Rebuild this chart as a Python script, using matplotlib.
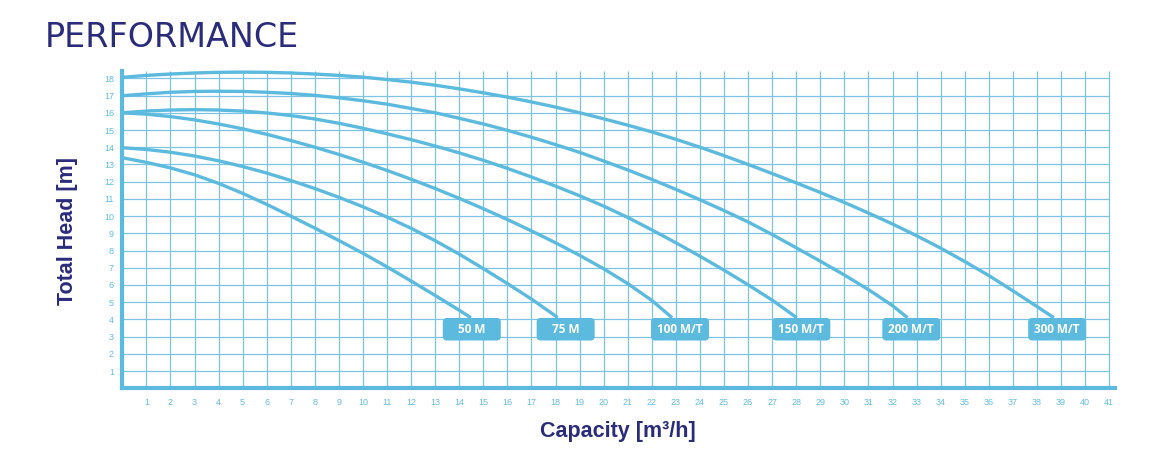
import matplotlib
matplotlib.use("Agg")
import matplotlib.pyplot as plt
from matplotlib.patches import FancyBboxPatch

# ---------------- data ----------------
capacity_ticks = list(range(1, 42))
head_ticks = list(range(1, 19))

series_names = ["50 M", "75 M", "100 M/T", "150 M/T", "200 M/T", "300 M/T"]

q_50 = [0, 1, 2, 3, 4, 5, 6, 7, 8, 9, 10, 11, 12, 13, 14, 14.48]
h_50 = [13.39, 13.12, 12.8, 12.4, 11.9, 11.32, 10.68, 10.0, 9.3, 8.58, 7.84, 7.05,
        6.23, 5.39, 4.53, 4.1]

q_75 = [0, 1, 2, 3, 4, 5, 6, 7, 8, 9, 10, 11, 12, 13, 14, 15, 16, 17, 18, 18.08]
h_75 = [13.97, 13.87, 13.71, 13.49, 13.21, 12.88, 12.5, 12.07, 11.6, 11.09, 10.54, 9.94,
        9.29, 8.57, 7.79, 6.95, 6.08, 5.18, 4.2, 4.1]

q_100 = [0, 1, 2, 3, 4, 5, 6, 7, 8, 9, 10, 11, 12, 13, 14, 15, 16, 17, 18, 19, 20, 21, 22, 22.84]
h_100 = [16.0, 15.92, 15.78, 15.59, 15.35, 15.07, 14.75, 14.39, 14.0, 13.58, 13.13, 12.65,
         12.14, 11.6, 11.03, 10.43, 9.8, 9.14, 8.45, 7.72, 6.94, 6.08, 5.1, 4.1]

q_150 = [0, 1, 2, 3, 4, 5, 6, 7, 8, 9, 10, 11, 12, 13, 14, 15, 16, 17, 18, 19, 20, 21, 22,
         23, 24, 25, 26, 27, 28.02]
h_150 = [16.0, 16.1, 16.16, 16.18, 16.16, 16.1, 15.99, 15.84, 15.64, 15.39, 15.1, 14.78,
         14.44, 14.07, 13.67, 13.24, 12.77, 12.27, 11.74, 11.18, 10.58, 9.92, 9.2, 8.45,
         7.67, 6.86, 6.01, 5.12, 4.1]

q_200 = [0, 1, 2, 3, 4, 5, 6, 7, 8, 9, 10, 11, 12, 13, 14, 15, 16, 17, 18, 19, 20, 21, 22,
         23, 24, 25, 26, 27, 28, 29, 30, 31, 32, 32.62]
h_200 = [16.99, 17.1, 17.19, 17.24, 17.25, 17.24, 17.19, 17.12, 17.01, 16.87, 16.7, 16.5,
         16.25, 16.0, 15.68, 15.35, 14.98, 14.58, 14.15, 13.7, 13.2, 12.68, 12.13, 11.55,
         10.95, 10.32, 9.66, 8.93, 8.16, 7.38, 6.58, 5.73, 4.8, 4.1]

q_300 = [0, 1, 2, 3, 4, 5, 6, 7, 8, 9, 10, 11, 12, 13, 14, 15, 16, 17, 18, 19, 20, 21, 22,
         23, 24, 25, 26, 27, 28, 29, 30, 31, 32, 33, 34, 35, 36, 37, 38, 38.7]
h_300 = [18.06, 18.17, 18.25, 18.31, 18.35, 18.36, 18.35, 18.31, 18.25, 18.17, 18.07,
         17.93, 17.78, 17.6, 17.39, 17.16, 16.91, 16.63, 16.33, 16.0, 15.65, 15.28, 14.89,
         14.46, 14.0, 13.51, 13.0, 12.47, 11.93, 11.37, 10.79, 10.18, 9.54, 8.86, 8.14,
         7.36, 6.55, 5.66, 4.75, 4.1]

series_q = [q_50, q_75, q_100, q_150, q_200, q_300]
series_h = [h_50, h_75, h_100, h_150, h_200, h_300]

# ---------------- layout / style ----------------
W, H = 1151, 453
CURVE = "#5cbadf"
GRID = "#7cc4e2"
TICK = "#62bde3"
NAVY = "#2b2b7b"

label_x = [14.52, 18.42, 23.17, 28.21, 32.78, 38.84]
label_y = 3.43
box_w, box_h = 2.41, 1.31

plt.rcParams["font.family"] = ["Liberation Sans", "DejaVu Sans"]

fig = plt.figure(figsize=(W / 100, H / 100), dpi=100)
x0_px, y0_px = 122.3, 388.3
xmax, ymax = 41.25, 18.4
xpu, ypu = 24.07, 17.22
ax = fig.add_axes([x0_px / W, (H - y0_px) / H, xmax * xpu / W, ymax * ypu / H])
ax.set_xlim(0, xmax)
ax.set_ylim(0, ymax)

# grid
ax.vlines(capacity_ticks, 0, ymax, color=GRID, lw=0.9, zorder=1)
ax.hlines(head_ticks, 0, 41, color=GRID, lw=0.9, zorder=1)

# spines
for s in ["top", "right"]:
    ax.spines[s].set_visible(False)
for s in ["left", "bottom"]:
    ax.spines[s].set_color(CURVE)
    ax.spines[s].set_linewidth(3.0)
    ax.spines[s].set_capstyle("projecting")

ax.set_xticks(capacity_ticks)
ax.set_xticklabels([str(v) for v in capacity_ticks])
ax.set_yticks(head_ticks)
ax.set_yticklabels([str(v) for v in head_ticks])
ax.tick_params(axis="both", length=0, labelsize=6.5, labelcolor=TICK)
ax.tick_params(axis="x", pad=7)
ax.tick_params(axis="y", pad=6)

# curves
for q, h in zip(series_q, series_h):
    ax.plot(q, h, color=CURVE, lw=2.4, solid_capstyle="butt", solid_joinstyle="round",
            zorder=3, clip_on=False)

# label boxes
asp = xpu / ypu
for name, cx in zip(series_names, label_x):
    box = FancyBboxPatch((cx - box_w / 2, label_y - box_h / 2), box_w, box_h,
                         boxstyle="round,pad=0,rounding_size=0.17",
                         mutation_aspect=asp, facecolor=CURVE, edgecolor="none",
                         zorder=4)
    ax.add_patch(box)
    ax.text(cx, label_y - 0.03, name, ha="center", va="center", color="white",
            fontsize=8.5, fontweight="bold", family=["Open Sans", "DejaVu Sans"], zorder=5)

# titles
fig.text(45 / W, (H - 47.3) / H, "PERFORMANCE", ha="left", va="baseline",
         fontsize=24, color=NAVY, family=["DejaVu Sans"])
fig.text(67.5 / W, (H - 231) / H, "Total Head [m]", rotation=90, ha="center",
         va="center", fontsize=15.5, fontweight="bold", color=NAVY)
fig.text(618 / W, (H - 437.3) / H, "Capacity [m³/h]", ha="center", va="baseline",
         fontsize=15.5, fontweight="bold", color=NAVY)

fig.savefig("out.png", dpi=100)
